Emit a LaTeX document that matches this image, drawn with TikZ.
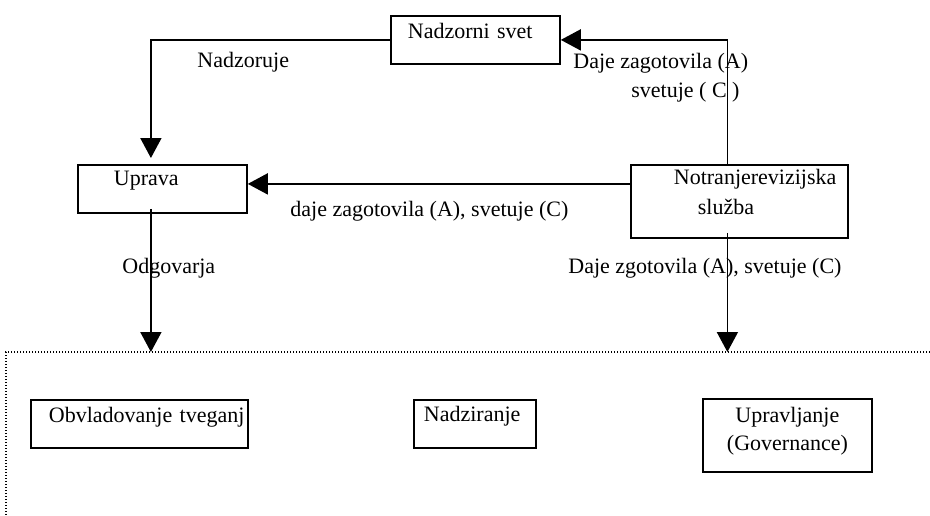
\documentclass[tikz,border=0pt]{standalone}
\usepackage{fontspec}
\setmainfont{Liberation Serif}
\usetikzlibrary{arrows.meta}

\tikzset{
  box/.style={draw, line width=0.9pt, anchor=north west, inner sep=0pt, align=left,
    font=\fontsize{11}{14.5}\selectfont},
  flow/.style={line width=0.9pt, -{Triangle[length=10pt,width=10.5pt]}},
  lbl/.style={anchor=base west, inner sep=0pt, font=\fontsize{11}{14.5}\selectfont},
  frame/.style={line width=0.8pt, dash pattern=on 0.7pt off 0.8pt}
}

\begin{document}
\begin{tikzpicture}[x=0.5pt,y=-0.5pt]
  \useasboundingbox (0,0) rectangle (930,515);

  % boxes
  \node[box, text width=84.5pt, text height=11.5pt, text depth=12.5pt] (svet) at (390,15) {\hspace*{8.5pt}Nadzorni svet};
  \node[box, text width=84.5pt, text height=10.5pt, text depth=13.5pt] (uprava) at (77,164) {\hspace*{18pt}Uprava};
  \node[box, text width=108.5pt, text height=10pt, text depth=26.5pt, font=\fontsize{11}{15}\selectfont] (notr) at (630,164) {\hspace*{21.5pt}Notranjerevizijska\\\hspace*{33.5pt}služba};
  \node[box, text width=108.5pt, text height=11.5pt, text depth=12.5pt] (tveganja) at (30,399) {\hspace*{9pt}Obvladovanje tveganj};
  \node[box, text width=61pt, text height=11pt, text depth=13pt] (nadziranje) at (413,399) {\hspace*{5pt}Nadziranje};
  \node[box, text width=84.5pt, text height=12pt, text depth=24.5pt, align=center, font=\fontsize{11}{14}\selectfont] (upravljanje) at (702,398) {Upravljanje\\(Governance)};

  % labels
  \node[lbl] (nadzoruje) at (197,67) {Nadzoruje};
  \node[lbl] (dajeA) at (573,68) {Daje zagotovila (A)};
  \node[lbl] (svetujeC) at (631,97) {svetuje ( C )};
  \node[lbl] (dajeLevo) at (290,216) {daje zagotovila (A), svetuje (C)};
  \node[lbl] (odgovarja) at (122,273) {Odgovarja};
  \node[lbl] (dajeDol) at (568,273) {Daje zgotovila (A), svetuje (C)};

  % dotted frame
  \coordinate (frameR) at (930,352);
  \coordinate (frameC) at (6,352);
  \coordinate (frameB) at (6,515);
  \draw[frame] (frameR) -- (frameC) -- (frameB);

  % connectors
  \coordinate (notrW) at ([yshift=8.75pt]notr.west);
  \coordinate (upravaS) at ([xshift=-5.75pt,yshift=2.5pt]uprava.south);
  \coordinate (notrS) at ([xshift=-6pt,yshift=3pt]notr.south);
  \draw[flow] (svet.west) -| ([xshift=-5.75pt,yshift=3pt]uprava.north);
  \draw[flow] ([xshift=-6pt]notr.north) |- (svet.east);
  \draw[flow] (notrW) -- (notrW -| uprava.east);
  \draw[flow] (upravaS) -- (upravaS |- frameC);
  \draw[flow] (notrS) -- (notrS |- frameC);
\end{tikzpicture}
\end{document}
